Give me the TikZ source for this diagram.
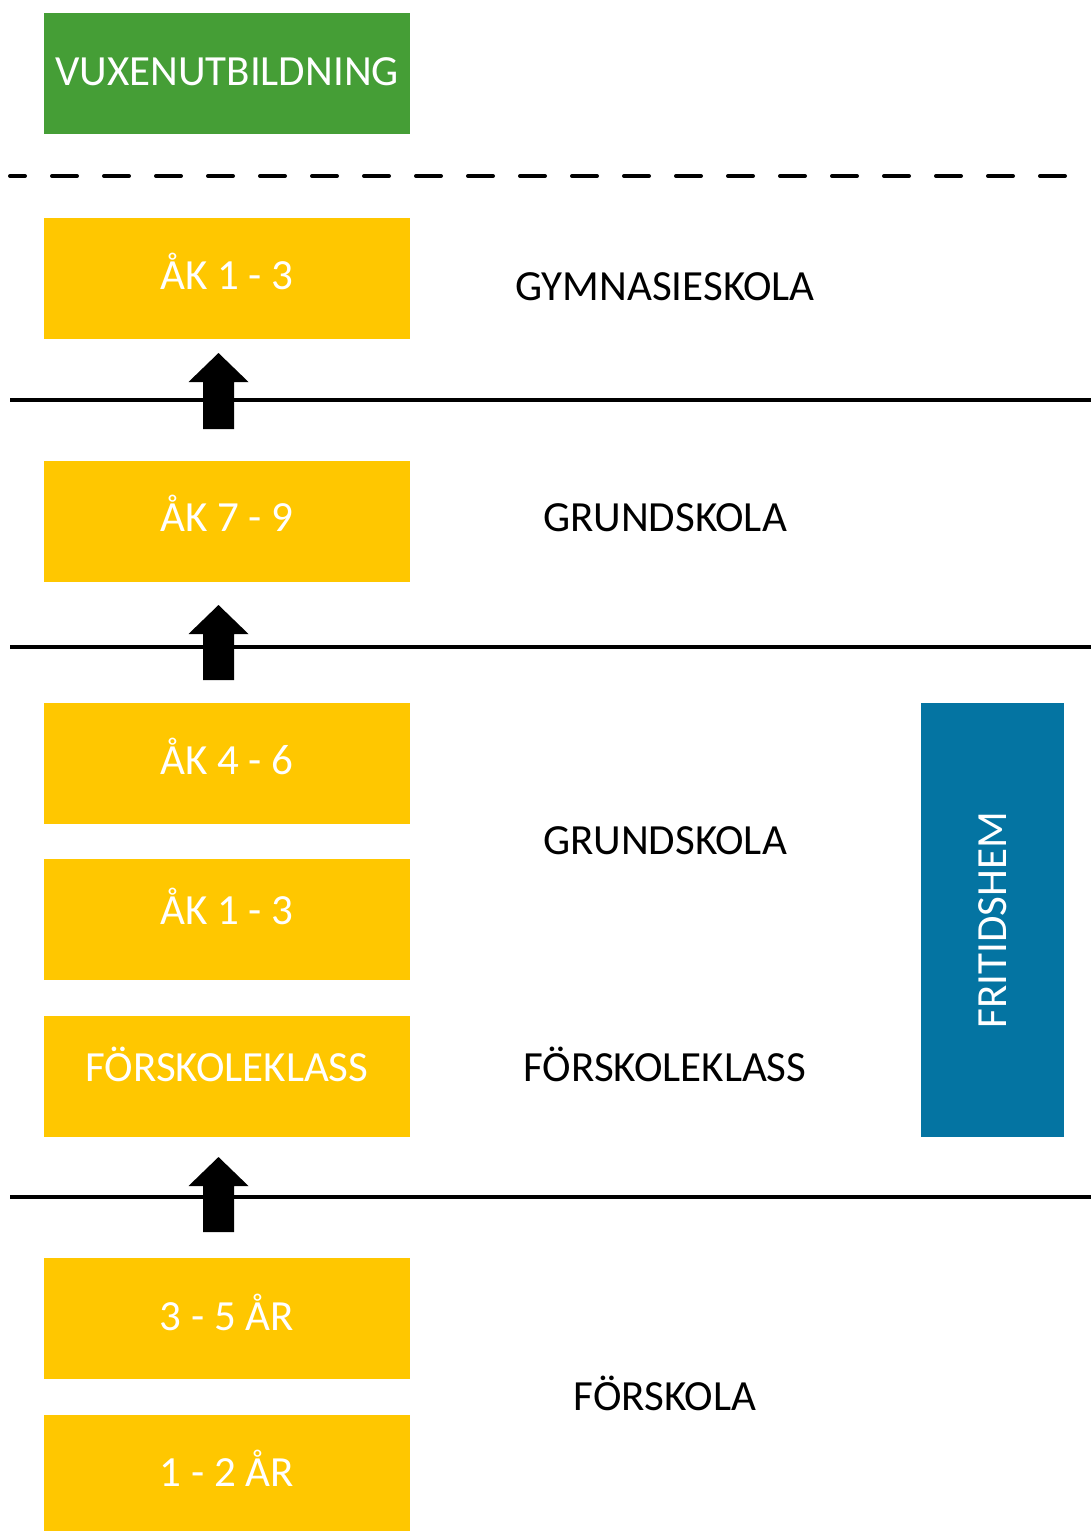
\documentclass[tikz,border=0pt]{standalone}
\usepackage{fontspec}
\setmainfont{Carlito}
\definecolor{ygold}{HTML}{FFC700}
\definecolor{vgreen}{HTML}{459E36}
\definecolor{fblue}{HTML}{0474A2}
\begin{document}
\begin{tikzpicture}[x=1pt,y=-1pt,
  box/.style={fill=#1,draw=none,text=white,inner sep=0pt,anchor=base,font=\fontsize{43}{50}\selectfont},
  lbl/.style={text=black,inner sep=0pt,anchor=base,font=\fontsize{43}{50}\selectfont},
  sep/.style={line width=3.5pt},
  dsep/.style={line width=4pt,dash pattern=on 25pt off 27pt,dash phase=10pt,line cap=round},
  uparrow/.style={fill=black,draw=none}]
\useasboundingbox (0,0) rectangle (1091,1532);
% boxes
\fill[vgreen] (44,13) rectangle (410,134);
\node[box=vgreen] (vux) at (227,85) {VUXENUTBILDNING};
\fill[ygold] (44,218) rectangle (410,339);
\node[box=ygold] (g13) at (227,289) {ÅK 1 - 3};
\fill[ygold] (44,461) rectangle (410,582);
\node[box=ygold] (a79) at (227,531) {ÅK 7 - 9};
\fill[ygold] (44,703) rectangle (410,824);
\node[box=ygold] (a46) at (227,774) {ÅK 4 - 6};
\fill[ygold] (44,859) rectangle (410,980);
\node[box=ygold] (a13) at (227,924) {ÅK 1 - 3};
\fill[ygold] (44,1016) rectangle (410,1137);
\node[box=ygold] (fk) at (227,1081) {FÖRSKOLEKLASS};
\fill[ygold] (44,1258) rectangle (410,1379);
\node[box=ygold] (a35) at (227,1330) {3 - 5 ÅR};
\fill[ygold] (44,1415) rectangle (410,1531);
\node[box=ygold] (a12) at (227,1486) {1 - 2 ÅR};
\fill[fblue] (921,703) rectangle (1064,1137);
\node[box=fblue,rotate=90,anchor=center] (frit) at (992.5,920) {FRITIDSHEM};
% separators
\draw[dsep] (10,176) -- (1091,176);
\draw[sep] (10,400) -- (1091,400);
\draw[sep] (10,647) -- (1091,647);
\draw[sep] (10,1197) -- (1091,1197);
% arrows
\foreach \t/\b in {353/429, 605/680, 1157/1232}{
  \fill[uparrow] (218.5,\t) -- (248.5,\t+29) -- (234,\t+29) -- (234,\b) -- (203,\b) -- (203,\t+29) -- (188.5,\t+29) -- cycle;
}
% labels
\node[lbl] (l1) at (665,300) {GYMNASIESKOLA};
\node[lbl] (l2) at (665,531) {GRUNDSKOLA};
\node[lbl] (l3) at (665,854) {GRUNDSKOLA};
\node[lbl] (l4) at (665,1081) {FÖRSKOLEKLASS};
\node[lbl] (l5) at (665,1410) {FÖRSKOLA};
\end{tikzpicture}
\end{document}
